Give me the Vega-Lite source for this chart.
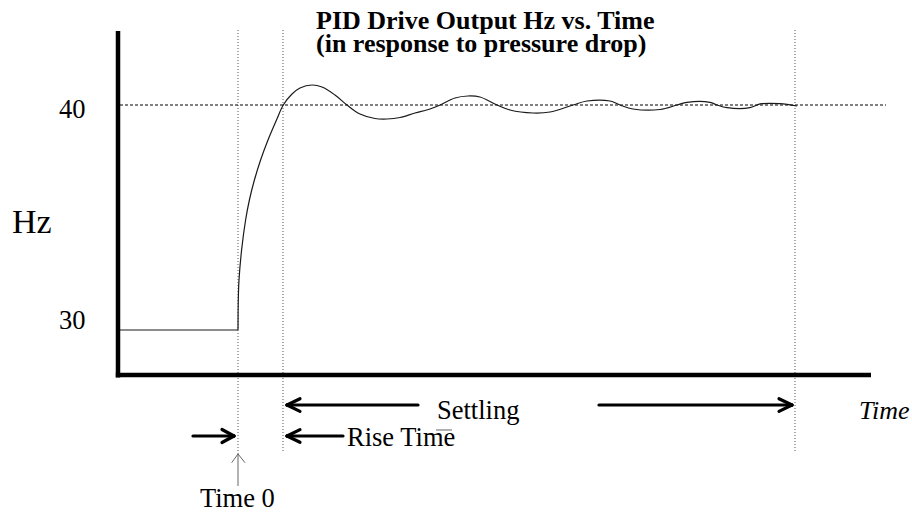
{
  "$schema": "https://vega.github.io/schema/vega-lite/v6.json",
  "width": 912,
  "height": 512,
  "autosize": {"type": "none"},
  "padding": 0,
  "background": "white",
  "config": {"view": {"stroke": null}},
  "datasets": {
    "curve": [
      {"part": "before", "i": 0, "t": -5.9, "hz": 29.486},
      {"part": "before", "i": 1, "t": 0, "hz": 29.486},
      {"part": "response", "i": 2, "t": 0, "hz": 29.486},
      {"part": "response", "i": 3, "t": 0.015, "hz": 30.888},
      {"part": "response", "i": 4, "t": 0.05, "hz": 31.822},
      {"part": "response", "i": 5, "t": 0.18, "hz": 33.224},
      {"part": "response", "i": 6, "t": 0.38, "hz": 34.626},
      {"part": "response", "i": 7, "t": 0.57, "hz": 35.561},
      {"part": "response", "i": 8, "t": 0.82, "hz": 36.495},
      {"part": "response", "i": 9, "t": 1.13, "hz": 37.43},
      {"part": "response", "i": 10, "t": 1.5, "hz": 38.364},
      {"part": "response", "i": 11, "t": 1.925, "hz": 39.299},
      {"part": "response", "i": 12, "t": 2.265, "hz": 40.0},
      {"part": "response", "i": 13, "t": 2.7, "hz": 40.514},
      {"part": "response", "i": 14, "t": 3.1, "hz": 40.794},
      {"part": "response", "i": 15, "t": 3.7, "hz": 40.935},
      {"part": "response", "i": 16, "t": 4.2, "hz": 40.841},
      {"part": "response", "i": 17, "t": 4.85, "hz": 40.467},
      {"part": "response", "i": 18, "t": 5.45, "hz": 40.0},
      {"part": "response", "i": 19, "t": 6.1, "hz": 39.579},
      {"part": "response", "i": 20, "t": 6.85, "hz": 39.369},
      {"part": "response", "i": 21, "t": 7.45, "hz": 39.346},
      {"part": "response", "i": 22, "t": 8.1, "hz": 39.416},
      {"part": "response", "i": 23, "t": 8.85, "hz": 39.626},
      {"part": "response", "i": 24, "t": 9.6, "hz": 39.813},
      {"part": "response", "i": 25, "t": 10.1, "hz": 40.0},
      {"part": "response", "i": 26, "t": 10.85, "hz": 40.327},
      {"part": "response", "i": 27, "t": 11.5, "hz": 40.421},
      {"part": "response", "i": 28, "t": 12.1, "hz": 40.374},
      {"part": "response", "i": 29, "t": 12.95, "hz": 40.0},
      {"part": "response", "i": 30, "t": 13.6, "hz": 39.766},
      {"part": "response", "i": 31, "t": 14.75, "hz": 39.626},
      {"part": "response", "i": 32, "t": 15.6, "hz": 39.673},
      {"part": "response", "i": 33, "t": 16.75, "hz": 40.0},
      {"part": "response", "i": 34, "t": 17.45, "hz": 40.187},
      {"part": "response", "i": 35, "t": 18.6, "hz": 40.187},
      {"part": "response", "i": 36, "t": 19.1, "hz": 40.0},
      {"part": "response", "i": 37, "t": 19.75, "hz": 39.813},
      {"part": "response", "i": 38, "t": 21.1, "hz": 39.79},
      {"part": "response", "i": 39, "t": 21.95, "hz": 40.0},
      {"part": "response", "i": 40, "t": 22.45, "hz": 40.126},
      {"part": "response", "i": 41, "t": 23.6, "hz": 40.126},
      {"part": "response", "i": 42, "t": 23.95, "hz": 40.0},
      {"part": "response", "i": 43, "t": 24.45, "hz": 39.874},
      {"part": "response", "i": 44, "t": 25.6, "hz": 39.874},
      {"part": "response", "i": 45, "t": 25.95, "hz": 40.0},
      {"part": "response", "i": 46, "t": 26.2, "hz": 40.061},
      {"part": "response", "i": 47, "t": 27.1, "hz": 40.061},
      {"part": "response", "i": 48, "t": 27.95, "hz": 39.953}
    ],
    "guides": [
      {"name": "Time 0", "t": 0, "top": 43.505, "bottom": 23.692},
      {"name": "Rise", "t": 2.25, "top": 43.505, "bottom": 23.738},
      {"name": "Settled", "t": 27.85, "top": 43.505, "bottom": 23.738}
    ],
    "setpoint": [{"t1": -5.9, "t2": 32.4, "hz": 40}],
    "axes": [
      {"t1": -6.0, "t2": -6.0, "hz1": 43.458, "hz2": 27.27},
      {"t1": -6.11, "t2": 31.65, "hz1": 27.383, "hz2": 27.383}
    ],
    "segments": [
      {"group": "bold", "t1": 9.0, "hz1": 25.981, "t2": 2.45, "hz2": 25.981},
      {"group": "bold", "t1": 2.45, "hz1": 25.981, "t2": 3.1, "hz2": 26.276},
      {"group": "bold", "t1": 2.45, "hz1": 25.981, "t2": 3.1, "hz2": 25.686},
      {"group": "bold", "t1": 18.05, "hz1": 25.981, "t2": 27.7, "hz2": 25.981},
      {"group": "bold", "t1": 27.7, "hz1": 25.981, "t2": 27.05, "hz2": 26.276},
      {"group": "bold", "t1": 27.7, "hz1": 25.981, "t2": 27.05, "hz2": 25.686},
      {"group": "bold", "t1": 5.25, "hz1": 24.533, "t2": 2.45, "hz2": 24.533},
      {"group": "bold", "t1": 2.45, "hz1": 24.533, "t2": 3.1, "hz2": 24.828},
      {"group": "bold", "t1": 2.45, "hz1": 24.533, "t2": 3.1, "hz2": 24.238},
      {"group": "bold", "t1": -2.25, "hz1": 24.533, "t2": -0.2, "hz2": 24.533},
      {"group": "bold", "t1": -0.2, "hz1": 24.533, "t2": -0.8, "hz2": 24.836},
      {"group": "bold", "t1": -0.2, "hz1": 24.533, "t2": -0.8, "hz2": 24.229},
      {"group": "thin", "t1": 0, "hz1": 22.196, "t2": 0, "hz2": 23.692},
      {"group": "thin", "t1": 0, "hz1": 23.692, "t2": -0.315, "hz2": 23.285},
      {"group": "thin", "t1": 0, "hz1": 23.692, "t2": 0.35, "hz2": 23.285},
      {"group": "thin", "t1": 9.9, "hz1": 24.813, "t2": 10.7, "hz2": 24.813}
    ],
    "labels": [
      {"role": "title", "text": "PID Drive Output Hz vs. Time", "t": 3.9, "hz": 43.537},
      {"role": "title", "text": "(in response to pressure drop)", "t": 3.9, "hz": 42.5},
      {"role": "plain", "text": "40", "t": -8.95, "hz": 39.393},
      {"role": "plain", "text": "30", "t": -8.95, "hz": 29.533},
      {"role": "big", "text": "Hz", "t": -11.3, "hz": 34.019},
      {"role": "plain", "text": "Settling", "t": 9.95, "hz": 25.327},
      {"role": "plain", "text": "Rise Time", "t": 5.45, "hz": 24.065},
      {"role": "italic", "text": "Time", "t": 31.05, "hz": 25.327},
      {"role": "plain", "text": "Time 0", "t": -1.9, "hz": 21.21}
    ]
  },
  "layer": [
    {
      "data": {"name": "guides"},
      "mark": {"type": "rule", "color": "#555555", "strokeWidth": 1, "strokeDash": [1, 2]},
      "encoding": {
        "x": {"field": "t", "type": "quantitative", "scale": {"domain": [-11.9, 33.7], "nice": false, "zero": false}, "axis": null},
        "y": {"field": "top", "type": "quantitative", "scale": {"domain": [20.981, 44.907], "nice": false, "zero": false}, "axis": null},
        "y2": {"field": "bottom"}
      }
    },
    {
      "data": {"name": "setpoint"},
      "mark": {"type": "rule", "color": "#000000", "strokeWidth": 1, "strokeDash": [3, 2]},
      "encoding": {
        "x": {"field": "t1", "type": "quantitative", "scale": {"domain": [-11.9, 33.7], "nice": false, "zero": false}, "axis": null},
        "x2": {"field": "t2"},
        "y": {"field": "hz", "type": "quantitative", "scale": {"domain": [20.981, 44.907], "nice": false, "zero": false}, "axis": null}
      }
    },
    {
      "data": {"name": "curve"},
      "transform": [{"filter": "datum.part === 'before'"}],
      "mark": {"type": "line", "color": "#1a1a1a", "strokeWidth": 1.2},
      "encoding": {
        "x": {"field": "t", "type": "quantitative", "scale": {"domain": [-11.9, 33.7], "nice": false, "zero": false}, "axis": null},
        "y": {"field": "hz", "type": "quantitative", "scale": {"domain": [20.981, 44.907], "nice": false, "zero": false}, "axis": null},
        "order": {"field": "i", "type": "quantitative"}
      }
    },
    {
      "data": {"name": "curve"},
      "transform": [{"filter": "datum.part === 'response'"}],
      "mark": {"type": "line", "color": "#1a1a1a", "strokeWidth": 1.2, "interpolate": "catmull-rom"},
      "encoding": {
        "x": {"field": "t", "type": "quantitative", "scale": {"domain": [-11.9, 33.7], "nice": false, "zero": false}, "axis": null},
        "y": {"field": "hz", "type": "quantitative", "scale": {"domain": [20.981, 44.907], "nice": false, "zero": false}, "axis": null},
        "order": {"field": "i", "type": "quantitative"}
      }
    },
    {
      "data": {"name": "axes"},
      "mark": {"type": "rule", "color": "#000000", "strokeWidth": 4.5},
      "encoding": {
        "x": {"field": "t1", "type": "quantitative", "scale": {"domain": [-11.9, 33.7], "nice": false, "zero": false}, "axis": null},
        "x2": {"field": "t2"},
        "y": {"field": "hz1", "type": "quantitative", "scale": {"domain": [20.981, 44.907], "nice": false, "zero": false}, "axis": null},
        "y2": {"field": "hz2"}
      }
    },
    {
      "data": {"name": "segments"},
      "transform": [{"filter": "datum.group === 'bold'"}],
      "mark": {"type": "rule", "color": "#000000", "strokeWidth": 3.2, "strokeCap": "round"},
      "encoding": {
        "x": {"field": "t1", "type": "quantitative", "scale": {"domain": [-11.9, 33.7], "nice": false, "zero": false}, "axis": null},
        "x2": {"field": "t2"},
        "y": {"field": "hz1", "type": "quantitative", "scale": {"domain": [20.981, 44.907], "nice": false, "zero": false}, "axis": null},
        "y2": {"field": "hz2"}
      }
    },
    {
      "data": {"name": "segments"},
      "transform": [{"filter": "datum.group === 'thin'"}],
      "mark": {"type": "rule", "color": "#666666", "strokeWidth": 1},
      "encoding": {
        "x": {"field": "t1", "type": "quantitative", "scale": {"domain": [-11.9, 33.7], "nice": false, "zero": false}, "axis": null},
        "x2": {"field": "t2"},
        "y": {"field": "hz1", "type": "quantitative", "scale": {"domain": [20.981, 44.907], "nice": false, "zero": false}, "axis": null},
        "y2": {"field": "hz2"}
      }
    },
    {
      "data": {"name": "labels"},
      "transform": [{"filter": "datum.role === 'title'"}],
      "mark": {"type": "text", "font": "Liberation Serif", "fontWeight": "bold", "fontSize": 26, "align": "left", "baseline": "alphabetic", "color": "#000000"},
      "encoding": {
        "x": {"field": "t", "type": "quantitative", "scale": {"domain": [-11.9, 33.7], "nice": false, "zero": false}, "axis": null},
        "y": {"field": "hz", "type": "quantitative", "scale": {"domain": [20.981, 44.907], "nice": false, "zero": false}, "axis": null},
        "text": {"field": "text"}
      }
    },
    {
      "data": {"name": "labels"},
      "transform": [{"filter": "datum.role === 'plain'"}],
      "mark": {"type": "text", "font": "Liberation Serif", "fontSize": 26.5, "align": "left", "baseline": "alphabetic", "color": "#000000"},
      "encoding": {
        "x": {"field": "t", "type": "quantitative", "scale": {"domain": [-11.9, 33.7], "nice": false, "zero": false}, "axis": null},
        "y": {"field": "hz", "type": "quantitative", "scale": {"domain": [20.981, 44.907], "nice": false, "zero": false}, "axis": null},
        "text": {"field": "text"}
      }
    },
    {
      "data": {"name": "labels"},
      "transform": [{"filter": "datum.role === 'big'"}],
      "mark": {"type": "text", "font": "Liberation Serif", "fontSize": 34, "align": "left", "baseline": "alphabetic", "color": "#000000"},
      "encoding": {
        "x": {"field": "t", "type": "quantitative", "scale": {"domain": [-11.9, 33.7], "nice": false, "zero": false}, "axis": null},
        "y": {"field": "hz", "type": "quantitative", "scale": {"domain": [20.981, 44.907], "nice": false, "zero": false}, "axis": null},
        "text": {"field": "text"}
      }
    },
    {
      "data": {"name": "labels"},
      "transform": [{"filter": "datum.role === 'italic'"}],
      "mark": {"type": "text", "font": "Liberation Serif", "fontStyle": "italic", "fontSize": 26, "align": "left", "baseline": "alphabetic", "color": "#000000"},
      "encoding": {
        "x": {"field": "t", "type": "quantitative", "scale": {"domain": [-11.9, 33.7], "nice": false, "zero": false}, "axis": null},
        "y": {"field": "hz", "type": "quantitative", "scale": {"domain": [20.981, 44.907], "nice": false, "zero": false}, "axis": null},
        "text": {"field": "text"}
      }
    }
  ]
}
